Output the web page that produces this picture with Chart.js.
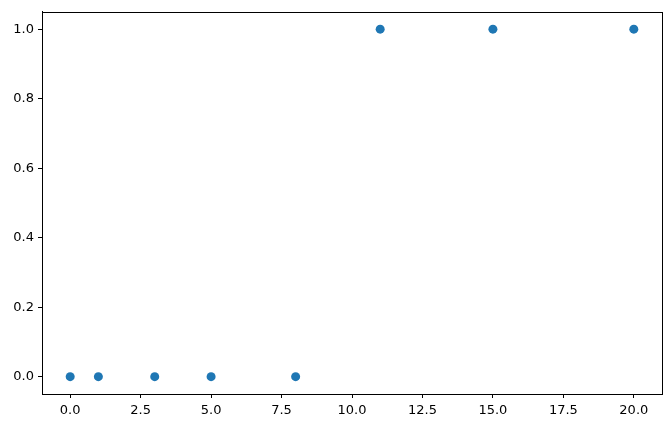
<!DOCTYPE html>
<html>
<head>
<meta charset="utf-8">
<script src="https://cdn.jsdelivr.net/npm/chart.js@4"></script>
<style>
html,body{margin:0;padding:0;background:#fff;}
#wrap{width:671px;height:428px;position:relative;}
</style>
</head>
<body>
<div id="wrap"><canvas id="c" width="671" height="428"></canvas></div>
<script>
const xValues = [0, 1, 3, 5, 8, 11, 15, 20];
const yValues = [0, 0, 0, 0, 0, 1, 1, 1];
const xTicks = [0, 2.5, 5, 7.5, 10, 12.5, 15, 17.5, 20];
const yTicks = [0, 0.2, 0.4, 0.6, 0.8, 1.0];

const points = xValues.map((x, i) => ({x: x, y: yValues[i]}));

const frame = {
  id: 'frame',
  afterDatasetsDraw(chart) {
    const a = chart.chartArea, ctx = chart.ctx;
    ctx.save();
    ctx.strokeStyle = '#000';
    ctx.lineWidth = 1;
    ctx.strokeRect(Math.round(a.left) + 0.5, Math.round(a.top) + 0.5,
      Math.round(a.right - a.left), Math.round(a.bottom - a.top));
    ctx.restore();
  }
};

const font = {family: 'DejaVu Sans', size: 13};

new Chart(document.getElementById('c'), {
  type: 'scatter',
  data: {
    datasets: [{
      data: points,
      backgroundColor: '#1f77b4',
      borderColor: '#1f77b4',
      pointRadius: 4.5,
      pointHoverRadius: 4.5,
      borderWidth: 0
    }]
  },
  options: {
    responsive: false,
    animation: false,
    devicePixelRatio: 1,
    layout: {padding: {top: 9, right: 9, left: 0, bottom: 0}},
    plugins: {legend: {display: false}, tooltip: {enabled: false}},
    scales: {
      x: {
        type: 'linear',
        min: -1, max: 21,
        afterBuildTicks: s => { s.ticks = xTicks.map(v => ({value: v})); },
        afterFit: s => { s.height = 34; },
        grid: {display: true, drawOnChartArea: false, drawTicks: true, tickLength: 4, color: '#000', tickWidth: 1},
        border: {display: true, color: '#000', width: 1},
        ticks: {color: '#000', font: font, padding: 5, maxRotation: 0, autoSkip: false,
          callback: v => Number(v).toFixed(1)}
      },
      y: {
        type: 'linear',
        min: -0.05, max: 1.05,
        afterBuildTicks: s => { s.ticks = yTicks.map(v => ({value: v})); },
        afterFit: s => { s.width = 42; },
        grid: {display: true, drawOnChartArea: false, drawTicks: true, tickLength: 4, color: '#000', tickWidth: 1},
        border: {display: true, color: '#000', width: 1},
        ticks: {color: '#000', font: font, padding: 4, autoSkip: false,
          callback: v => Number(v).toFixed(1)}
      }
    }
  },
  plugins: [frame]
});
</script>
</body>
</html>
